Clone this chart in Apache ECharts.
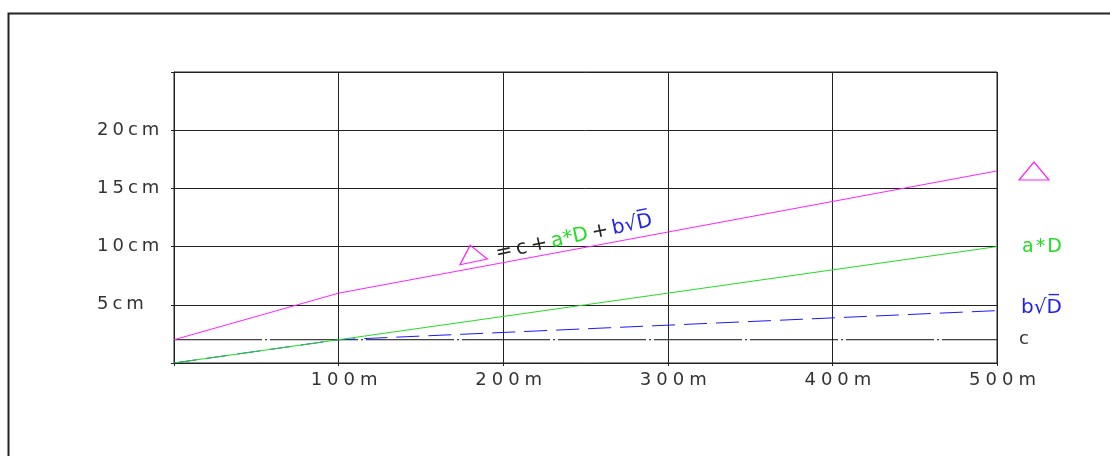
<!DOCTYPE html>
<html>
<head>
<meta charset="utf-8">
<script src="https://cdn.jsdelivr.net/npm/echarts@6/dist/echarts.min.js"></script>
<style>
  html, body { margin: 0; padding: 0; background: #fff; }
  #chart-container { width: 1110px; height: 456px; }
</style>
</head>
<body>
<div id="chart-container"></div>
<script>
// distances along the x axis (m)
var distances = [0, 100, 500];
// total error Δ = c + a*D + b√D (cm)
var deltaTotal = [2, 6, 16.5];
// linear part a*D (cm)
var linearPart = [0, 2, 10];
// root part b√D (cm)
var rootPart = [0, 2, 4.5];
// constant part c (cm)
var constPart = [2, 2, 2];

var xTicks = [100, 200, 300, 400, 500];
var yTicks = [5, 10, 15, 20];

function pairs(ys) {
    return distances.map(function (d, i) { return [d, ys[i]]; });
}

// wide CAD-like lettering: one rich token per character
function spaced(s) {
    return s.split('').map(function (ch) { return '{s|' + ch + '}'; }).join('');
}

var font = 'DejaVu Sans';
var txt = '#333';
var magenta = '#ff22ff';
var green = '#22dd22';
var blue = '#2222ee';

var myChart = echarts.init(document.getElementById('chart-container'));

var option = {
    animation: false,
    backgroundColor: '#fff',
    grid: {
        left: 174, right: 113, top: 72, bottom: 93,
        show: true, borderColor: '#222', borderWidth: 1
    },
    xAxis: {
        type: 'value', min: 0, max: 500, interval: 100,
        axisLine: { show: true, onZero: false, lineStyle: { color: '#222' } },
        axisTick: { show: true, length: 3, lineStyle: { color: '#222' } },
        splitLine: { show: true, lineStyle: { color: '#222', width: 1 } },
        axisLabel: {
            margin: 8, fontFamily: font, fontSize: 18, color: txt, padding: [0, 0, 0, 8],
            formatter: function (v) { return xTicks.indexOf(v) >= 0 ? spaced(v + 'm') : ''; },
            rich: { s: { fontFamily: font, fontSize: 18, color: txt, padding: [0, 1, 0, 4] } }
        }
    },
    yAxis: {
        type: 'value', min: 0, max: 25, interval: 5,
        axisLine: { show: true, onZero: false, lineStyle: { color: '#222' } },
        axisTick: { show: true, length: 3, lineStyle: { color: '#222' } },
        splitLine: { show: true, lineStyle: { color: '#222', width: 1 } },
        axisLabel: {
            margin: 80, align: 'left', fontFamily: font, fontSize: 18, color: txt,
            formatter: function (v) { return yTicks.indexOf(v) >= 0 ? spaced(v + 'cm') : ''; },
            rich: { s: { fontFamily: font, fontSize: 18, color: txt, padding: [0, 1, 0, 3] } }
        }
    },
    series: [
        {
            name: 'c', type: 'line', data: pairs(constPart), symbol: 'none',
            lineStyle: { color: '#111', width: 1, type: [88, 3, 2, 3] },
            endLabel: { show: true, formatter: 'c', distance: 22, fontFamily: font, fontSize: 18, color: txt }
        },
        {
            name: 'b√D', type: 'line', data: pairs(rootPart), symbol: 'none',
            lineStyle: { color: '#1a1aff', width: 1, type: [23, 9] },
            endLabel: { show: true, formatter: 'b√D̅', distance: 24, offset: [0, -3], fontFamily: font, fontSize: 20, color: blue }
        },
        {
            name: 'a*D', type: 'line', data: pairs(linearPart), symbol: 'none',
            lineStyle: { color: green, width: 1 },
            endLabel: {
                show: true, formatter: '{s|a}{s|*}{s|D}', distance: 24,
                rich: { s: { fontFamily: font, fontSize: 19, color: green, padding: [0, 1] } }
            }
        },
        {
            name: 'Δ', type: 'line', data: pairs(deltaTotal), symbol: 'none',
            lineStyle: { color: magenta, width: 1 },
            markPoint: {
                silent: true,
                data: [
                    {
                        // legend triangle at the end of the Δ line
                        coord: [500, 16.5], symbol: 'triangle', symbolSize: [30, 18],
                        symbolOffset: [37, 0],
                        itemStyle: { color: 'rgba(0,0,0,0)', borderColor: magenta, borderWidth: 1.2 },
                        label: { show: false }
                    },
                    {
                        // triangle of the formula written along the line
                        coord: [181, 9.4], symbol: 'triangle', symbolSize: [28, 17],
                        symbolRotate: 12,
                        itemStyle: { color: 'rgba(0,0,0,0)', borderColor: magenta, borderWidth: 1.2 },
                        label: { show: false }
                    },
                    {
                        coord: [243, 10.8], symbol: 'circle', symbolSize: 0,
                        label: {
                            show: true, position: 'inside', rotate: 12,
                            formatter: '{k|=}{k|c}{k|+}{g|a*D}{k|+}{b|b√D̅}',
                            rich: {
                                k: { fontFamily: font, fontSize: 20, color: '#222', padding: [0, 2] },
                                g: { fontFamily: font, fontSize: 20, color: green, padding: [0, 2] },
                                b: { fontFamily: font, fontSize: 20, color: blue, padding: [0, 2] }
                            }
                        }
                    }
                ]
            }
        }
    ],
    graphic: [
        {
            type: 'rect', left: 6, top: 11, silent: true,
            shape: { width: 1120, height: 470 },
            style: { fill: 'none', stroke: '#222', lineWidth: 2 }
        }
    ]
};

myChart.setOption(option);
</script>
</body>
</html>
